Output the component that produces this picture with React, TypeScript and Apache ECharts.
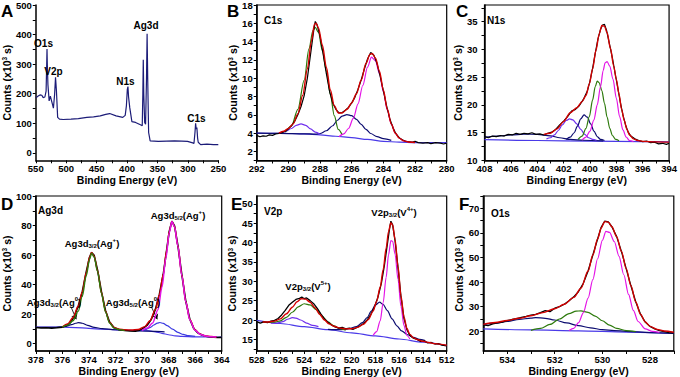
import React, { useEffect, useRef } from "react";
import * as echarts from "echarts";

const FN = "'Liberation Sans Narrow', 'Liberation Sans', Arial, sans-serif";
const FW = "'Liberation Sans', Arial, sans-serif";

const RED = "#d40000";
const BLACK = "#000000";
const GREEN = "#2d7a0c";
const NAVY = "#0c0c70";
const MAGENTA = "#e414e6";
const VIOLET = "#7030ee";
const BGLINE = "#4a3ae8";
const SURVEY = "#1c1c78";

// ---------- Panel A: survey ----------
const A_SURVEY = [
  [550, 187], [548, 189], [546, 192], [543, 196], [540, 195], [538, 187], [535, 189], [533, 209],
  [532, 300], [531.5, 351], [531, 300], [530, 231], [528, 176], [526, 192], [524, 176], [522, 160],
  [521, 151], [519, 198], [517.5, 256], [516, 209], [514, 120], [511, 114], [505, 113], [492, 114],
  [480, 116], [466, 120], [455, 122], [444, 125], [435, 130], [428.5, 133], [418, 125], [407, 120],
  [403, 127], [401, 160], [399.5, 215], [398.5, 224], [397.5, 190], [395.5, 153], [392, 106], [386, 103],
  [378, 95], [375, 92], [374, 200], [373.3, 315], [372.5, 200], [371, 103], [369.5, 97], [368, 250],
  [367, 403], [366, 250], [364.5, 69], [362, 41], [348.6, 39], [335, 40], [322, 41], [310, 40],
  [300.6, 39], [292, 34], [290, 32], [288.3, 70], [287.3, 100], [286.3, 81], [285.2, 86], [284, 50],
  [283, 36], [279, 28], [268.6, 30], [258, 28], [250, 28],
];

// ---------- Panel B: C1s ----------
const B_EXP = [
  [292, 3.75], [291.8, 3.6], [291.6, 3.7], [291.4, 3.65], [291.2, 3.8], [291, 3.75], [290.8, 3.9],
  [290.6, 3.95], [290.4, 4.05], [290.2, 4.2], [290, 4.45], [289.8, 4.8], [289.6, 5.3], [289.4, 6.0],
  [289.2, 6.9], [289, 8.1], [288.8, 10.0], [288.6, 12.6], [288.4, 15.2], [288.3, 16.2], [288.2, 15.9],
  [288, 14.6], [287.8, 12.6], [287.6, 10.5], [287.4, 8.6], [287.2, 7.3], [287, 6.6], [286.8, 6.2],
  [286.6, 6.25], [286.4, 6.5], [286.2, 6.8], [286, 7.3], [285.8, 7.9], [285.6, 8.8], [285.4, 9.8],
  [285.2, 11.0], [285, 12.1], [284.8, 12.8], [284.6, 12.5], [284.4, 11.6], [284.2, 10.2], [284, 8.6],
  [283.8, 7.0], [283.6, 5.6], [283.4, 4.6], [283.2, 3.9], [283, 3.5], [282.8, 3.25], [282.6, 3.1],
  [282.4, 3.05], [282.2, 3.0], [282, 3.1], [281.8, 2.95], [281.5, 2.9], [281.2, 2.95], [281, 2.85],
  [280.7, 2.95], [280.4, 2.9], [280.2, 2.8], [280, 2.9],
];
const B_FIT = [
  [290.6, 4.0], [290.3, 4.2], [290, 4.5], [289.7, 5.0], [289.4, 6.1], [289.1, 8.1], [288.8, 11.0],
  [288.55, 14.0], [288.35, 15.9], [288.25, 16.0], [288.1, 15.5], [287.85, 13.6], [287.6, 11.2],
  [287.35, 8.7], [287.1, 7.0], [286.85, 6.2], [286.6, 6.2], [286.3, 6.6], [286, 7.3], [285.7, 8.3],
  [285.4, 9.8], [285.1, 11.6], [284.85, 12.6], [284.7, 12.7], [284.5, 12.2], [284.25, 10.8], [284, 8.7],
  [283.75, 6.6], [283.5, 5.0], [283.25, 4.0], [283, 3.45], [282.7, 3.15], [282.4, 3.02], [282, 2.97],
];
const B_GREEN = [
  [290.2, 4.1], [289.8, 4.8], [289.4, 6.6], [289.0, 9.8], [288.7, 13.2], [288.45, 15.2], [288.3, 15.55],
  [288.1, 15.0], [287.85, 13.0], [287.6, 10.8], [287.35, 8.2], [287.1, 5.9], [286.85, 4.4], [286.6, 3.8],
];
const B_NAVY = [
  [292, 4.0], [290.5, 3.97], [289, 3.92], [288.3, 3.88], [288, 3.95], [287.6, 4.25], [287.2, 4.8],
  [286.9, 5.4], [286.6, 5.85], [286.3, 6.02], [286, 5.9], [285.7, 5.5], [285.4, 4.95], [285.1, 4.4],
  [284.8, 3.95], [284.4, 3.6], [284, 3.4], [283.5, 3.2],
];
const B_MAGENTA = [
  [286.8, 3.6], [286.5, 3.9], [286.2, 4.5], [285.9, 5.6], [285.6, 7.2], [285.3, 9.2], [285, 11.2],
  [284.75, 12.3], [284.5, 11.9], [284.25, 10.5], [284, 8.5], [283.75, 6.5], [283.5, 5.0], [283.25, 4.0],
  [283, 3.45], [282.7, 3.15], [282.4, 3.02], [282, 2.97],
];
const B_VIOLET = [
  [290.6, 4.0], [290.2, 4.15], [289.8, 4.5], [289.5, 4.85], [289.2, 5.0], [288.9, 4.85], [288.6, 4.45],
  [288.3, 4.1], [288, 3.88],
];
const B_BASE = [
  [292, 4.0], [291, 3.98], [290, 3.95], [289, 3.9], [288, 3.8], [287, 3.65], [286, 3.5], [285, 3.3],
  [284, 3.1], [283, 3.0], [282, 2.95], [281, 2.95], [280, 2.95],
];

// ---------- Panel C: N1s ----------
const C_EXP = [
  [408, 14.3], [407.7, 14.1], [407.4, 14.4], [407.1, 14.3], [406.8, 14.5], [406.5, 14.4], [406.2, 14.7],
  [405.9, 14.6], [405.6, 14.9], [405.3, 14.7], [405, 14.9], [404.7, 14.8], [404.4, 15.0], [404.1, 14.7],
  [403.8, 14.8], [403.5, 14.6], [403.2, 14.9], [402.9, 15.1], [402.6, 15.6], [402.3, 16.4], [402, 17.1],
  [401.7, 17.9], [401.4, 18.9], [401.1, 19.2], [400.8, 19.9], [400.5, 21.0], [400.2, 22.5], [400, 24.3],
  [399.8, 26.6], [399.6, 29.3], [399.4, 31.8], [399.2, 33.6], [399.05, 34.4], [398.9, 34.5], [398.75, 33.5],
  [398.55, 31.3], [398.3, 28.5], [398.1, 25.8], [397.9, 23.2], [397.7, 20.5], [397.5, 18.2], [397.3, 16.4],
  [397.1, 15.1], [396.9, 14.4], [396.6, 13.9], [396.3, 13.6], [396, 13.4], [395.7, 13.5], [395.4, 13.2],
  [395.1, 13.3], [394.8, 13.0], [394.5, 13.1], [394.2, 12.9], [394, 13.1],
];
const C_FIT = [
  [403.5, 14.7], [403, 14.9], [402.5, 15.7], [402, 17.0], [401.5, 18.6], [401, 19.5], [400.6, 20.6],
  [400.3, 21.7], [400.05, 23.8], [399.8, 26.5], [399.55, 29.8], [399.3, 32.8], [399.1, 34.3], [398.9, 34.2],
  [398.7, 33.0], [398.45, 30.2], [398.2, 27.0], [398, 24.6], [397.8, 22.0], [397.6, 19.2], [397.4, 17.2],
  [397.2, 15.6], [397, 14.6], [396.7, 13.9], [396.4, 13.6], [396, 13.45], [395, 13.35], [394, 13.3],
];
const C_VIOLET = [
  [403.3, 13.9], [403, 14.1], [402.7, 14.6], [402.4, 15.4], [402.1, 16.4], [401.8, 17.2], [401.55, 17.5],
  [401.3, 17.3], [401, 16.6], [400.7, 15.6], [400.4, 14.7], [400.1, 14.1], [399.8, 13.8], [399.5, 13.65],
];
const C_NAVY = [
  [401.8, 13.8], [401.5, 14.2], [401.2, 15.0], [400.95, 16.2], [400.7, 17.5], [400.45, 18.2], [400.2, 17.8],
  [399.95, 16.6], [399.7, 15.3], [399.45, 14.3], [399.2, 13.8], [398.9, 13.6],
];
const C_GREEN = [
  [400.9, 13.8], [400.6, 14.4], [400.3, 15.8], [400.05, 17.9], [399.8, 20.9], [399.6, 23.3], [399.45, 24.3],
  [399.3, 24.0], [399.1, 22.6], [398.9, 20.3], [398.7, 17.8], [398.5, 15.8], [398.3, 14.5], [398.05, 13.8],
  [397.8, 13.55],
];
const C_MAGENTA = [
  [400.6, 13.7], [400.3, 14.2], [400, 15.3], [399.7, 17.3], [399.45, 20.0], [399.2, 23.3], [399, 26.2],
  [398.85, 27.6], [398.7, 27.8], [398.5, 27.0], [398.25, 24.6], [398, 21.2], [397.75, 17.9], [397.5, 15.5],
  [397.25, 14.2], [397, 13.6], [396.7, 13.4],
];
const C_HUMP = [
  [408, 14.2], [407, 14.4], [406, 14.6], [405, 14.75], [404, 14.7], [403, 14.45], [402.3, 14.1],
  [401.5, 13.8], [400.5, 13.65], [399, 13.55],
];
const C_BASE = [[408, 13.75], [404, 13.6], [400, 13.5], [396, 13.4], [394, 13.35]];

// ---------- Panel D: Ag3d ----------
const D_EXP = [
  [378, 10.9], [377.6, 10.6], [377.2, 10.8], [376.8, 10.4], [376.4, 10.7], [376, 11.1], [375.7, 12.2],
  [375.4, 14.3], [375.1, 18.5], [374.8, 25.5], [374.5, 35], [374.2, 48.5], [373.95, 58.5], [373.8, 61.6],
  [373.6, 59.8], [373.35, 50], [373.05, 35], [372.75, 22.5], [372.45, 14.8], [372.1, 10.8], [371.7, 9.4],
  [371.3, 8.9], [370.9, 8.6], [370.5, 8.4], [370.2, 9.0], [369.9, 10.5], [369.6, 12.5], [369.3, 16.5],
  [369, 23], [368.7, 33], [368.4, 47], [368.15, 63], [367.95, 76], [367.75, 83.0], [367.55, 79.8],
  [367.3, 66.5], [367, 46.5], [366.7, 28.5], [366.4, 16.5], [366.1, 10.2], [365.8, 7.3], [365.5, 5.8],
  [365.2, 5.0], [364.9, 4.5], [364.6, 4.3], [364.3, 4.1], [364, 4.2],
];
const D_FIT = [
  [376.0, 11.3], [375.6, 13.3], [375.2, 17.5], [374.8, 25.5], [374.5, 35], [374.2, 48], [373.95, 58.5],
  [373.8, 61.8], [373.6, 59.3], [373.35, 49.5], [373.05, 34.5], [372.75, 22], [372.45, 14.5], [372.1, 11],
  [371.7, 9.8], [371.3, 9.4], [370.8, 9.2], [370.3, 9.6], [369.8, 11.5], [369.4, 15.5], [369.0, 23],
  [368.7, 33], [368.4, 47], [368.15, 63], [367.95, 76], [367.75, 82.8], [367.55, 79.3], [367.3, 66.3],
  [367.0, 46.3], [366.7, 28.3], [366.4, 16.3], [366.0, 9.2], [365.6, 6.4], [365.2, 5.2], [364.8, 4.8],
  [364.4, 4.5],
];
const D_GREEN = [
  [376.0, 11.2], [375.6, 12.5], [375.2, 15.5], [374.8, 22], [374.5, 32], [374.2, 46], [373.95, 57],
  [373.8, 61.3], [373.6, 58.5], [373.35, 49], [373.05, 34], [372.75, 21.5], [372.45, 14], [372.1, 10.5],
  [371.7, 9.4], [371.3, 9.0],
];
const D_MAGENTA = [
  [370.0, 9.0], [369.6, 10.5], [369.2, 14], [368.8, 23], [368.5, 38], [368.2, 58], [367.95, 75],
  [367.75, 82.7], [367.55, 79], [367.3, 66], [367.0, 46], [366.7, 28], [366.4, 16], [366.0, 9],
  [365.6, 6.2], [365.2, 5.1], [364.8, 4.7], [364.4, 4.5],
];
const D_NAVY = [
  [378, 11.1], [376.5, 11.0], [375.8, 11.6], [375.3, 12.8], [375, 13.8], [374.8, 14.2], [374.5, 13.8],
  [374.1, 12.4], [373.6, 11.0], [373, 10.2], [372, 9.4], [371, 8.9], [370, 8.6], [369, 8.3], [368.3, 8.0],
];
const D_VIOLET = [
  [370.3, 8.7], [369.8, 9.3], [369.4, 10.8], [369.1, 12.6], [368.85, 13.9], [368.65, 14.3], [368.4, 13.7],
  [368.1, 12.2], [367.7, 9.8], [367.3, 7.6], [366.9, 6.2], [366.5, 5.4], [366, 4.9],
];
const D_BASE = [
  [378, 11.2], [377, 11.2], [376, 11.1], [375, 10.9], [374, 10.3], [373, 9.8], [372, 9.3], [371, 9.0],
  [370, 8.8], [369.5, 8.6], [369, 8.0], [368.5, 7.0], [368, 6.0], [367.5, 5.3], [367, 4.9], [366, 4.6],
  [365, 4.5], [364, 4.4],
];

// ---------- Panel E: V2p ----------
const E_EXP = [
  [528, 19.6], [527.7, 19.2], [527.4, 19.5], [527.1, 19.3], [526.8, 19.7], [526.5, 19.9], [526.2, 20.4],
  [525.9, 21.3], [525.6, 22.5], [525.3, 23.8], [525, 24.6], [524.7, 25.3], [524.4, 25.6], [524.2, 25.9],
  [524, 25.5], [523.8, 25.7], [523.5, 25.0], [523.2, 24.2], [522.9, 23.0], [522.6, 21.6], [522.3, 20.3],
  [522, 19.4], [521.7, 18.7], [521.4, 18.2], [521.1, 17.9], [520.8, 18.1], [520.5, 17.7], [520.2, 17.9],
  [519.9, 17.6], [519.6, 18.0], [519.3, 18.5], [519, 19.1], [518.7, 20.0], [518.4, 21.4], [518.1, 23.2],
  [517.8, 25.8], [517.5, 29.5], [517.25, 34], [517, 39.5], [516.8, 43.8], [516.7, 45.5], [516.55, 44.5],
  [516.35, 40.5], [516.1, 33.5], [515.85, 26], [515.6, 20.5], [515.35, 17.5], [515.1, 16.0], [514.8, 15.3],
  [514.5, 15.0], [514.2, 14.5], [513.9, 14.6], [513.6, 14.1], [513.3, 14.2], [513, 13.8], [512.7, 13.9],
  [512.4, 13.5], [512, 13.3],
];
const E_FIT = [
  [527.5, 19.5], [527, 19.5], [526.5, 19.7], [526, 20.3], [525.5, 21.6], [525, 23.3], [524.6, 24.7],
  [524.25, 25.5], [523.9, 25.4], [523.5, 24.6], [523.1, 23.2], [522.7, 21.5], [522.3, 20.0], [521.9, 19.0],
  [521.5, 18.4], [521, 17.9], [520.5, 17.7], [520, 17.75], [519.5, 18.1], [519, 18.9], [518.6, 20.1],
  [518.2, 22.3], [517.9, 24.8], [517.6, 28.5], [517.35, 33], [517.1, 38.5], [516.9, 42.8], [516.7, 45.1],
  [516.55, 44.5], [516.35, 40.8], [516.1, 33.8], [515.85, 26.2], [515.6, 20.8], [515.35, 17.8],
  [515.1, 16.3], [514.8, 15.4], [514.4, 14.9], [514, 14.5], [513.5, 14.2], [513, 13.9], [512, 13.5],
];
const E_NAVY = [
  [522, 17.6], [521, 17.5], [520.2, 17.8], [519.6, 18.3], [519.1, 19.3], [518.7, 20.6], [518.35, 22.3],
  [518.0, 23.9], [517.65, 24.6], [517.35, 24.0], [517.0, 22.4], [516.6, 20.3], [516.2, 18.5], [515.8, 17.2],
  [515.3, 16.2], [514.8, 15.5], [514.3, 15.0], [513.8, 14.7],
];
const E_MAGENTA = [
  [518.2, 16.0], [517.9, 17.0], [517.6, 19.8], [517.35, 24.5], [517.1, 31], [516.9, 36.8], [516.7, 40.5],
  [516.55, 40.3], [516.35, 37.0], [516.1, 30.5], [515.85, 23.5], [515.6, 18.6], [515.35, 16.0], [515.1, 15.1],
];
const E_GREEN = [
  [527.5, 19.5], [527, 19.4], [526.5, 19.45], [526, 19.8], [525.5, 20.7], [525, 22.0], [524.5, 23.4],
  [524.0, 24.2], [523.5, 23.9], [523.0, 22.7], [522.5, 21.0], [522.0, 19.5], [521.5, 18.5], [521.0, 17.8],
  [520.5, 17.4],
];
const E_VIOLET = [
  [526.8, 19.2], [526.3, 19.2], [525.8, 19.6], [525.4, 20.2], [525.0, 20.6], [524.7, 20.5], [524.3, 20.0],
  [523.8, 19.2], [523.3, 18.6], [522.8, 18.3],
];
const E_BASE = [
  [528, 19.9], [526, 19.1], [524, 18.3], [522, 17.5], [520, 16.7], [518, 15.9], [516, 15.1], [514, 14.3],
  [512, 13.4],
];

// ---------- Panel F: O1s ----------
const F_EXP = [
  [535, 22.6], [534.8, 22.3], [534.6, 23.0], [534.4, 23.4], [534.2, 23.7], [534, 24.3], [533.8, 24.8],
  [533.6, 25.2], [533.4, 25.7], [533.2, 26.1], [533, 26.6], [532.8, 26.9], [532.6, 27.6], [532.4, 28.4],
  [532.2, 28.0], [532, 29.4], [531.8, 30.0], [531.6, 31.0], [531.4, 32.4], [531.2, 34.0], [531, 36.2],
  [530.8, 39.5], [530.6, 44.5], [530.4, 51], [530.2, 57.5], [530.05, 62.3], [529.9, 64.8], [529.75, 64.5],
  [529.6, 62.5], [529.4, 58.5], [529.2, 52.5], [529, 45.5], [528.8, 38.5], [528.6, 32.0], [528.4, 27.0],
  [528.2, 23.8], [528, 22.0], [527.8, 21.0], [527.6, 20.3], [527.4, 19.9], [527.2, 19.5], [527, 19.4],
];
const F_FIT = [
  [535, 22.8], [534.5, 23.6], [534, 24.4], [533.5, 25.3], [533, 26.3], [532.5, 27.6], [532, 29.2],
  [531.6, 31.0], [531.2, 33.8], [530.9, 37.5], [530.6, 44.5], [530.4, 51], [530.2, 57.5], [530.05, 62],
  [529.9, 64.6], [529.75, 64.4], [529.6, 62.5], [529.4, 58.5], [529.2, 52.5], [529, 45.5], [528.8, 38.5],
  [528.6, 32], [528.4, 27], [528.2, 23.8], [528, 22], [527.7, 20.8], [527.4, 20.1], [527, 19.6],
];
const F_MAGENTA = [
  [531.4, 20.3], [531.2, 21.2], [531, 23.5], [530.8, 27.5], [530.6, 33.5], [530.4, 41], [530.2, 49.5],
  [530.0, 57], [529.85, 60.6], [529.7, 60.2], [529.5, 56.5], [529.3, 50.5], [529.1, 43], [528.9, 35],
  [528.7, 28.5], [528.5, 24], [528.2, 21], [527.9, 20.0], [527.6, 19.6],
];
const F_GREEN = [
  [533, 20.4], [532.6, 21.2], [532.2, 22.8], [531.8, 25.0], [531.4, 27.2], [531.1, 28.2], [530.9, 28.3],
  [530.6, 27.7], [530.3, 26.2], [530, 24.3], [529.7, 22.5], [529.4, 21.2], [529, 20.3], [528.6, 19.9],
];
const F_NAVY = [
  [535, 22.7], [534.5, 23.3], [534, 24.0], [533.5, 24.8], [533, 25.4], [532.8, 25.6], [532.4, 25.3],
  [532, 24.6], [531.5, 23.4], [531, 22.3], [530.5, 21.4], [530, 20.7], [529.5, 20.3], [529, 20.0],
  [528, 19.5], [527, 19.2],
];
const F_BASE = [[535, 21.0], [533, 20.6], [531, 20.2], [529, 19.7], [527, 19.2]];

// ---------- tick values ----------
const A_X_LAB = [250, 300, 350, 400, 450, 500, 550];
const A_X_TICK = [250, 275, 300, 325, 350, 375, 400, 425, 450, 475, 500, 525, 550];
const A_Y_LAB = [0, 100, 200, 300, 400, 500];
const A_Y_TICK = [0, 50, 100, 150, 200, 250, 300, 350, 400, 450, 500];
const B_X_LAB = [280, 282, 284, 286, 288, 290, 292];
const B_X_TICK = [280, 281, 282, 283, 284, 285, 286, 287, 288, 289, 290, 291, 292];
const B_Y_LAB = [2, 4, 6, 8, 10, 12, 14, 16, 18];
const B_Y_TICK = [1, 2, 3, 4, 5, 6, 7, 8, 9, 10, 11, 12, 13, 14, 15, 16, 17, 18];
const C_X_LAB = [394, 396, 398, 400, 402, 404, 406, 408];
const C_X_TICK = [394, 395, 396, 397, 398, 399, 400, 401, 402, 403, 404, 405, 406, 407, 408];
const C_Y_LAB = [10, 15, 20, 25, 30, 35];
const C_Y_TICK = [10, 12.5, 15, 17.5, 20, 22.5, 25, 27.5, 30, 32.5, 35, 37.5];
const D_X_LAB = [364, 366, 368, 370, 372, 374, 376, 378];
const D_X_TICK = [364, 365, 366, 367, 368, 369, 370, 371, 372, 373, 374, 375, 376, 377, 378];
const D_Y_LAB = [0, 20, 40, 60, 80, 100];
const D_Y_TICK = [0, 10, 20, 30, 40, 50, 60, 70, 80, 90, 100];
const E_X_LAB = [512, 514, 516, 518, 520, 522, 524, 526, 528];
const E_X_TICK = [512, 513, 514, 515, 516, 517, 518, 519, 520, 521, 522, 523, 524, 525, 526, 527, 528];
const E_Y_LAB = [15, 20, 25, 30, 35, 40, 45, 50];
const E_Y_TICK = [12.5, 15, 17.5, 20, 22.5, 25, 27.5, 30, 32.5, 35, 37.5, 40, 42.5, 45, 47.5, 50];
const F_X_LAB = [528, 530, 532, 534];
const F_X_TICK = [527, 528, 529, 530, 531, 532, 533, 534, 535];
const F_Y_LAB = [20, 30, 40, 50, 60, 70];
const F_Y_TICK = [15, 20, 25, 30, 35, 40, 45, 50, 55, 60, 65, 70, 75];

const GRIDS = [
  { left: 30.7, top: 3.3, width: 187.6, height: 157, show: false },
  { left: 256.7, top: 5, width: 190, height: 155.5, show: true },
  { left: 484.5, top: 5, width: 194, height: 155.5, show: true },
  { left: 30.7, top: 196, width: 191, height: 155.5, show: true },
  { left: 256.7, top: 196, width: 190, height: 155.5, show: true },
  { left: 483.3, top: 196, width: 190.5, height: 155.5, show: true },
];

function xAx(i: number, min: number, max: number, lab: number[], tick: number[]) {
  return {
    gridIndex: i, type: "value", inverse: true, min, max,
    name: "Binding Energy (eV)", nameLocation: "middle", nameGap: 14,
    nameTextStyle: { fontFamily: FN, fontWeight: "bold", fontSize: 10.5, color: "#000" },
    axisLine: { show: true, onZero: false, lineStyle: { color: "#000", width: 1.5 } },
    axisTick: { show: true, inside: false, length: 3, customValues: tick, lineStyle: { color: "#000", width: 1 } },
    axisLabel: { show: true, customValues: lab, margin: 3, fontFamily: FN, fontWeight: "bold", fontSize: 9.5, color: "#000" },
    splitLine: { show: false },
  };
}

function yAx(i: number, min: number, max: number, lab: number[], tick: number[], gap: number, margin = 4) {
  return {
    gridIndex: i, type: "value", min, max,
    name: "Counts (x10{s|3} s)", nameLocation: "middle", nameGap: gap, nameRotate: 90,
    nameTextStyle: {
      fontFamily: FN, fontWeight: "bold", fontSize: 10.5, color: "#000",
      rich: { s: { fontFamily: FN, fontWeight: "bold", fontSize: 6.5, color: "#000", verticalAlign: "top" } },
    },
    axisLine: { show: true, onZero: false, lineStyle: { color: "#000", width: 1.5 } },
    axisTick: { show: true, inside: false, length: 3, customValues: tick, lineStyle: { color: "#000", width: 1 } },
    axisLabel: { show: true, customValues: lab, margin, fontFamily: FN, fontWeight: "bold", fontSize: 9.5, color: "#000" },
    splitLine: { show: false },
  };
}

function ln(i: number, data: number[][], color: string, width: number, z: number, smooth: number | boolean = 0.3) {
  return {
    type: "line", xAxisIndex: i, yAxisIndex: i, data, symbol: "none", showSymbol: false,
    smooth, smoothMonotone: "x", lineStyle: { color, width }, z, silent: true, clip: true,
  };
}

const RICH = {
  sb: { fontFamily: FN, fontWeight: "bold", fontSize: 6, fill: "#000", verticalAlign: "bottom" },
  sp: { fontFamily: FN, fontWeight: "bold", fontSize: 6, fill: "#000", verticalAlign: "top" },
};

function txt(text: string, x: number, y: number, size: number, align: string, family: string, rich?: boolean) {
  const style: any = {
    text, fontSize: size, fontWeight: "bold", fontFamily: family, fill: "#000",
    textAlign: align, textVerticalAlign: "middle", align, verticalAlign: "middle",
  };
  if (rich) { style.rich = RICH; style.lineHeight = 12; }
  return { type: "text", x, y, style, silent: true, z: 100 };
}

export default function App() {
  const ref = useRef<HTMLDivElement>(null);
  useEffect(() => {
    if (!ref.current) return;
    const chart = echarts.init(ref.current, null, { renderer: "svg" });
    const grid = GRIDS.map((g) => ({
      left: g.left, top: g.top, width: g.width, height: g.height, show: g.show,
      borderColor: "#000", borderWidth: 1.2, backgroundColor: "transparent", containLabel: false,
    }));
    const option: any = {
      animation: false,
      backgroundColor: "#ffffff",
      grid,
      xAxis: [
        xAx(0, 250, 550, A_X_LAB, A_X_TICK),
        xAx(1, 280, 292, B_X_LAB, B_X_TICK),
        xAx(2, 394, 408, C_X_LAB, C_X_TICK),
        xAx(3, 364, 378, D_X_LAB, D_X_TICK),
        xAx(4, 512, 528, E_X_LAB, E_X_TICK),
        xAx(5, 527, 535, F_X_LAB, F_X_TICK),
      ],
      yAxis: [
        yAx(0, -25, 500, A_Y_LAB, A_Y_TICK, 17),
        yAx(1, 1, 18, B_Y_LAB, B_Y_TICK, 18),
        yAx(2, 10, 38, C_Y_LAB, C_Y_TICK, 19, 7),
        yAx(3, -5, 100, D_Y_LAB, D_Y_TICK, 19),
        yAx(4, 12, 52, E_Y_LAB, E_Y_TICK, 19),
        yAx(5, 12, 75, F_Y_LAB, F_Y_TICK, 18),
      ],
      series: [
        ln(0, A_SURVEY, SURVEY, 1.2, 3, false),
        // B
        ln(1, B_BASE, BGLINE, 1.2, 2), ln(1, B_NAVY, NAVY, 1.2, 3), ln(1, B_VIOLET, VIOLET, 1.2, 3),
        ln(1, B_GREEN, GREEN, 1.2, 3), ln(1, B_MAGENTA, MAGENTA, 1.2, 3),
        ln(1, B_EXP, BLACK, 1.2, 4, false), ln(1, B_FIT, RED, 1.4, 5),
        // C
        ln(2, C_BASE, BGLINE, 1.2, 2), ln(2, C_HUMP, NAVY, 1.2, 2), ln(2, C_VIOLET, VIOLET, 1.2, 3),
        ln(2, C_NAVY, NAVY, 1.2, 3), ln(2, C_GREEN, GREEN, 1.2, 3), ln(2, C_MAGENTA, MAGENTA, 1.2, 3),
        ln(2, C_EXP, BLACK, 1.2, 4, false), ln(2, C_FIT, RED, 1.4, 5),
        // D (components drawn over the envelope, as in the reference)
        ln(3, D_BASE, BGLINE, 1.2, 2), ln(3, D_NAVY, NAVY, 1.2, 3), ln(3, D_VIOLET, "#3a3ae0", 1.2, 3),
        ln(3, D_EXP, BLACK, 1.6, 4, false), ln(3, D_FIT, RED, 1.4, 5),
        ln(3, D_GREEN, GREEN, 1.4, 6), ln(3, D_MAGENTA, MAGENTA, 1.5, 6),
        {
          type: "line", xAxisIndex: 3, yAxisIndex: 3, data: [], silent: true,
          markLine: {
            silent: true, symbol: ["none", "arrow"], symbolSize: 5, animation: false,
            label: { show: false }, lineStyle: { color: "#000", width: 0.8, type: "solid" },
            data: [
              [{ coord: [375.35, 25] }, { coord: [374.95, 16.5] }],
              [{ coord: [369.3, 25] }, { coord: [368.85, 16.5] }],
            ],
          },
        },
        // E
        ln(4, E_BASE, BGLINE, 1.2, 2), ln(4, E_NAVY, NAVY, 1.2, 3), ln(4, E_VIOLET, VIOLET, 1.2, 3),
        ln(4, E_GREEN, GREEN, 1.2, 3), ln(4, E_MAGENTA, MAGENTA, 1.2, 3),
        ln(4, E_EXP, BLACK, 1.3, 4, false), ln(4, E_FIT, RED, 1.4, 5),
        // F
        ln(5, F_BASE, BGLINE, 1.2, 2), ln(5, F_NAVY, NAVY, 1.2, 3), ln(5, F_GREEN, GREEN, 1.2, 3),
        ln(5, F_MAGENTA, MAGENTA, 1.2, 3), ln(5, F_EXP, BLACK, 1.3, 4, false), ln(5, F_FIT, RED, 1.4, 5),
      ],
      graphic: [
        txt("A", 1, 11.5, 17, "left", FW),
        txt("B", 227, 11.5, 17, "left", FW),
        txt("C", 456, 11.5, 17, "left", FW),
        txt("D", 1, 204, 17, "left", FW),
        txt("E", 231, 204, 17, "left", FW),
        txt("F", 459, 204, 17, "left", FW),
        txt("O1s", 43.5, 43, 10, "center", FN),
        txt("V2p", 53.5, 71, 10, "center", FN),
        txt("N1s", 125.5, 81, 10, "center", FN),
        txt("Ag3d", 146, 25, 10, "center", FN),
        txt("C1s", 196.5, 118, 10, "center", FN),
        txt("C1s", 264, 20, 10, "left", FN),
        txt("N1s", 487, 20, 10, "left", FN),
        txt("Ag3d", 38, 210, 10, "left", FN),
        txt("V2p", 264, 211, 10, "left", FN),
        txt("O1s", 491, 213, 10, "left", FN),
        txt("Ag3d{sb|3/2}(Ag{sp|+})", 92, 243, 9.5, "center", FN, true),
        txt("Ag3d{sb|5/2}(Ag{sp|+})", 178, 215, 9.5, "center", FN, true),
        txt("Ag3d{sb|3/2}(Ag{sp|0})", 54, 302, 9.5, "center", FN, true),
        txt("Ag3d{sb|5/2}(Ag{sp|0})", 133, 302, 9.5, "center", FN, true),
        txt("V2p{sb|3/2}(V{sp|5+})", 308, 286, 9.5, "center", FN, true),
        txt("V2p{sb|3/2}(V{sp|4+})", 394, 212, 9.5, "center", FN, true),
      ],
    };
    chart.setOption(option);
    return () => chart.dispose();
  }, []);
  return (
    <div
      ref={ref}
      style={{ position: "fixed", left: 0, top: 0, width: 680, height: 377, background: "#fff" }}
    />
  );
}
